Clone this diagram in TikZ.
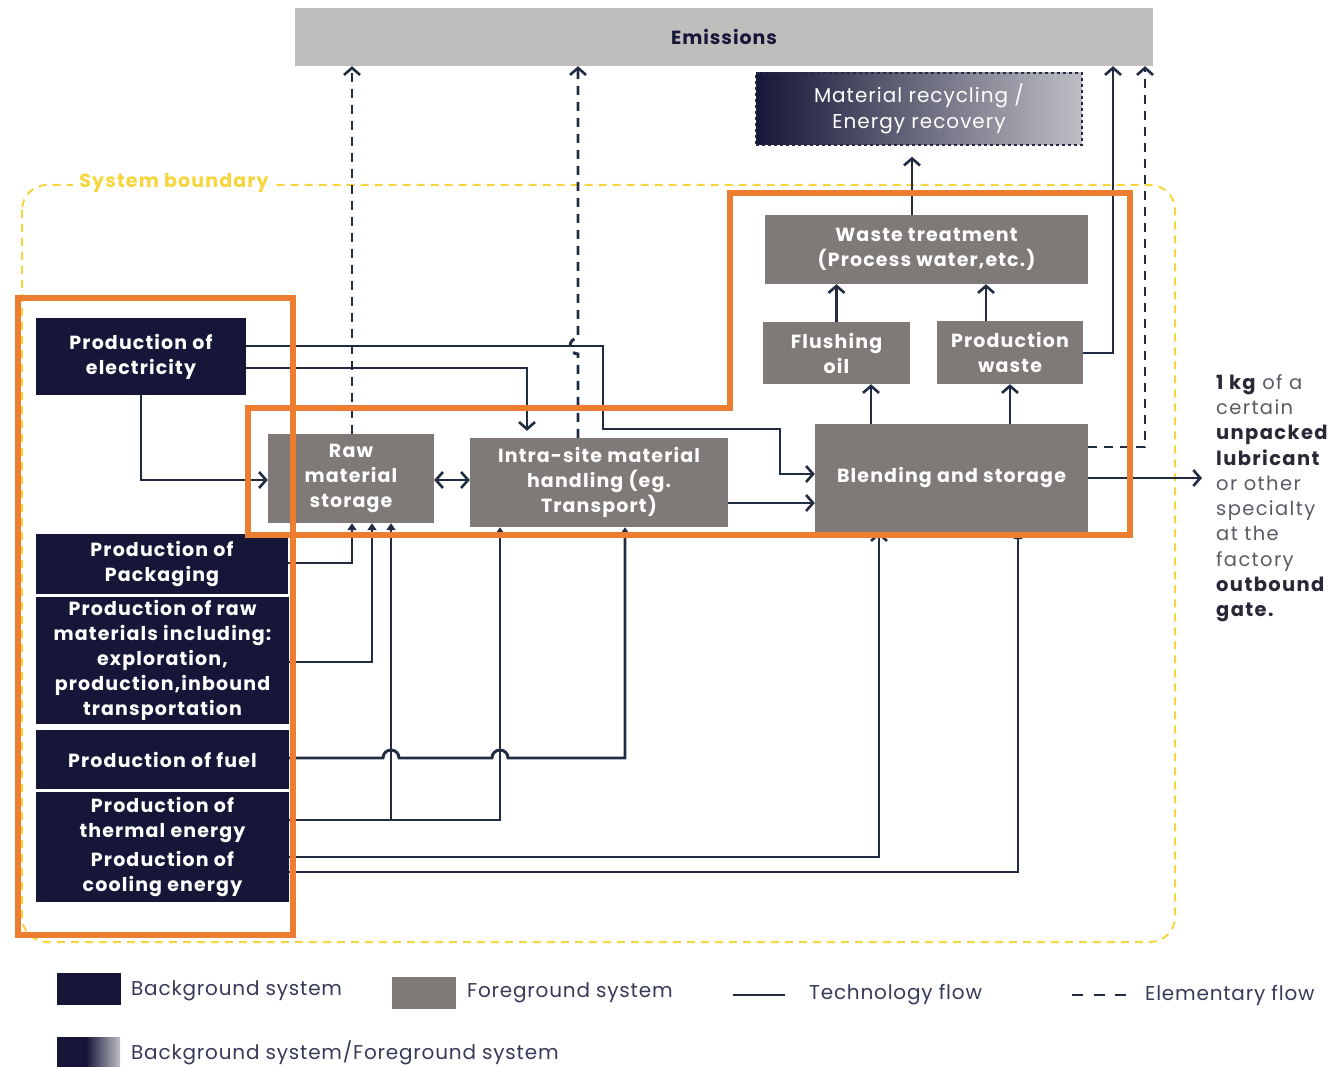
\documentclass[tikz,border=0pt]{standalone}
\usepackage{fontspec}
\setmainfont{Poppins}
\usetikzlibrary{arrows.meta,shapes.geometric}
\definecolor{navy}{RGB}{22,22,56}
\definecolor{fgray}{RGB}{127,122,119}
\definecolor{egray}{RGB}{191,190,188}
\definecolor{orng}{RGB}{237,125,49}
\definecolor{yel}{RGB}{247,213,60}
\definecolor{linec}{RGB}{33,44,66}
\definecolor{txtdark}{RGB}{40,40,55}
\definecolor{txtgray}{RGB}{90,90,100}
\definecolor{legtxt}{RGB}{55,58,88}
\definecolor{lgray}{RGB}{190,190,196}
\begin{document}
\begin{tikzpicture}[x=1pt,y=-1pt,
  boxfont/.style={font=\bfseries\fontsize{19}{25}\selectfont\addfontfeature{LetterSpace=6}},
  bgbox/.style={fill=navy, text=white, boxfont, align=center, inner sep=0pt},
  fgbox/.style={fill=fgray, text=white, boxfont, align=center, inner sep=0pt},
  flow/.style={draw=linec, line width=2.9pt},
  eflow/.style={draw=linec, line width=2.9pt, dash pattern=on 9pt off 7pt},
  tip/.style={-{Straight Barb[length=7pt,width=16pt,line width=2.6pt]}},
  ftip/.style={-{Triangle[length=7pt,width=9pt]}},
  orbox/.style={draw=orng, line width=6.5pt},
  legtext/.style={anchor=west, text=legtxt, font=\fontsize{20}{22}\selectfont\addfontfeature{LetterSpace=4}, inner sep=0pt},
]
\useasboundingbox (0,0) rectangle (1344,1067);

% system boundary
\draw[yel, line width=2pt, dash pattern=on 8pt off 6pt, rounded corners=25pt] (22,185) rectangle (1175,942);
\node[fill=white, text=yel, font=\bfseries\fontsize{19}{22}\selectfont\addfontfeature{LetterSpace=6}, inner sep=6pt] (sb) at (174,183) {System boundary};

% top boxes
\node[fill=egray, text=navy, font=\bfseries\fontsize{19}{22}\selectfont\addfontfeature{LetterSpace=5}, minimum width=858, minimum height=58, inner sep=0pt] (emis) at (724,37) {Emissions};
\node[left color=navy, right color=lgray, draw=linec, dashed, line width=1.5pt, text=white, font=\fontsize{20}{26}\selectfont\addfontfeature{LetterSpace=5}, align=center, minimum width=326, minimum height=72, inner sep=0pt] (recyc) at (919,109) {Material recycling /\\Energy recovery};

% foreground boxes
\node[fgbox, minimum width=323, minimum height=69] (waste) at (926.5,249.5) {Waste treatment\\(Process water,etc.)};
\node[fgbox, minimum width=147, minimum height=62] (flush) at (836.5,353) {Flushing\\oil};
\node[fgbox, minimum width=146, minimum height=63] (pwaste) at (1010,352.5) {Production\\waste};
\node[fgbox, minimum width=273, minimum height=108] (blend) at (951.5,478) {Blending and storage};
\node[fgbox, minimum width=166, minimum height=89] (raw) at (351,478.5) {Raw\\material\\storage};
\node[fgbox, minimum width=258, minimum height=89] (intra) at (599,482.5) {Intra-site material\\handling (eg.\\Transport)};

% background boxes
\node[bgbox, minimum width=210, minimum height=77] (elec) at (141,356.5) {Production of\\electricity};
\node[bgbox, minimum width=252, minimum height=60] (pack) at (162,564) {Production of\\Packaging};
\node[bgbox, minimum width=253, minimum height=127] (rawm) at (162.5,660.5) {Production of raw\\materials including:\\exploration,\\production,inbound\\transportation};
\node[bgbox, minimum width=253, minimum height=59] (fuel) at (162.5,759.5) {Production of fuel};
\node[bgbox, minimum width=253, minimum height=110] (therm) at (162.5,847) {Production of\\thermal energy\\[4pt]Production of\\cooling energy};

% helper coordinates
\coordinate (yA) at (0,346);
\coordinate (yB) at (0,474);
\coordinate (yC) at (0,368);
\coordinate (xC) at (527,0);
\coordinate (yE) at (0,480);
\coordinate (yF) at (0,503);
\coordinate (xG) at (871,0);
\coordinate (xH) at (1010,0);
\coordinate (xP) at (986,0);
\coordinate (xQ) at (912,0);
\coordinate (yI) at (0,353);
\coordinate (xJ) at (1113,0);
\coordinate (yK) at (0,447);
\coordinate (xL) at (1145,0);
\coordinate (xM) at (352,0);
\coordinate (xN) at (578,0);
\coordinate (y563) at (0,563);
\coordinate (y662) at (0,662);
\coordinate (y758) at (0,758);
\coordinate (y820) at (0,820);
\coordinate (y857) at (0,857);
\coordinate (y872) at (0,872);
\coordinate (x372) at (372,0);
\coordinate (x391) at (391,0);
\coordinate (x500) at (500,0);
\coordinate (x625) at (625,0);
\coordinate (x879) at (879,0);
\coordinate (x1018) at (1018,0);
\coordinate (out) at (1202,478);

% technology flows
\draw[flow,tip] (elec.east |- yA) -- (603,346) -- (603,429) -- (780,429) -- (780,474) -- (blend.west |- yB);
\draw[flow,tip,shorten >=7pt] (elec.east |- yC) -- (527,368) -- (intra.north -| xC);
\draw[flow,tip] (elec.south) -- (141,480) -- (raw.west |- yE);
\draw[flow,{Straight Barb[length=7pt,width=16pt,line width=2.6pt]}-{Straight Barb[length=7pt,width=16pt,line width=2.6pt]}] (raw.east |- yE) -- (intra.west |- yE);
\draw[flow,tip] (intra.east |- yF) -- (blend.west |- yF);
\draw[flow,tip] (blend.east) -- (out);
\draw[flow,tip] (blend.north -| xG) -- (flush.south -| xG);
\draw[flow,tip] (blend.north -| xH) -- (pwaste.south -| xH);
\draw[flow,tip] (flush.north) -- (waste.south -| flush.north);
\draw[flow,tip] (pwaste.north -| xP) -- (waste.south -| xP);
\draw[flow,tip,shorten >=11pt] (waste.north -| xQ) -- (recyc.south -| xQ);
\draw[flow,tip] (pwaste.east |- yI) -- (1113,353) -- (emis.south -| xJ);

% elementary flows
\draw[eflow,tip] (blend.east |- yK) -- (1145,447) -- (emis.south -| xL);
\draw[eflow,tip] (raw.north -| xM) -- (emis.south -| xM);
\draw[eflow,tip] (intra.north -| xN) -- (578,354) arc[start angle=90, end angle=270, radius=8] -- (emis.south -| xN);

% bottom flows
\draw[flow,ftip] (pack.east |- y563) -- (352,563) -- (raw.south -| xM);
\draw[flow,ftip] (rawm.east |- y662) -- (372,662) -- (raw.south -| x372);
\draw[flow,ftip] (therm.east |- y820) -- (500,820) -- (intra.south -| x500);
\draw[flow,ftip] (391,820) -- (raw.south -| x391);
\draw[flow,ftip] (fuel.east |- y758) -- (383,758) arc[start angle=180, end angle=360, radius=8] -- (492,758) arc[start angle=180, end angle=360, radius=8] -- (625,758) -- (intra.south -| x625);
\draw[flow,tip] (therm.east |- y857) -- (879,857) -- (blend.south -| x879);
\draw[flow,ftip] (therm.east |- y872) -- (1018,872) -- (blend.south -| x1018);

% orange outlines
\draw[orbox] (18,298) rectangle (293,935);
\draw[orbox] (248,408) -- (730,408) -- (730,193) -- (1130,193) -- (1130,535) -- (248,535) -- cycle;

% functional unit text
\node[anchor=north west, align=left, inner sep=0pt, text=txtgray, font=\fontsize{19.5}{25.3}\selectfont\addfontfeature{LetterSpace=7}] (fu) at (1216,374)
{\textcolor{txtdark}{\bfseries 1 kg} of a\\certain\\\textcolor{txtdark}{\bfseries unpacked}\\\textcolor{txtdark}{\bfseries lubricant}\\or other\\specialty\\at the\\factory\\\textcolor{txtdark}{\bfseries outbound}\\\textcolor{txtdark}{\bfseries gate.}};

% legend
\node[fill=navy, minimum width=64, minimum height=32, inner sep=0pt] (lg1) at (88.5,989) {};
\node[legtext] (lt1) at (131,991) {Background system};
\node[fill=fgray, minimum width=64, minimum height=32, inner sep=0pt] (lg2) at (424,993) {};
\node[legtext] (lt2) at (467,993) {Foreground system};
\coordinate (tl1) at (733,995);
\coordinate (tl2) at (785,995);
\draw[flow] (tl1) -- (tl2);
\node[legtext] (lt3) at (809,995) {Technology flow};
\coordinate (el1) at (1072,995);
\coordinate (el2) at (1126,995);
\draw[draw=linec, line width=2.9pt, dash pattern=on 11pt off 10.5pt] (el1) -- (el2);
\node[legtext] (lt4) at (1145,995) {Elementary flow};
\node[fill=navy, minimum width=30, minimum height=30, inner sep=0pt] (lg5a) at (72,1052) {};
\node[left color=navy, right color=lgray, minimum width=34, minimum height=30, inner sep=0pt] (lg5b) at (103,1052) {};
\node[legtext] (lt5) at (131,1053) {Background system/Foreground system};
\end{tikzpicture}
\end{document}
